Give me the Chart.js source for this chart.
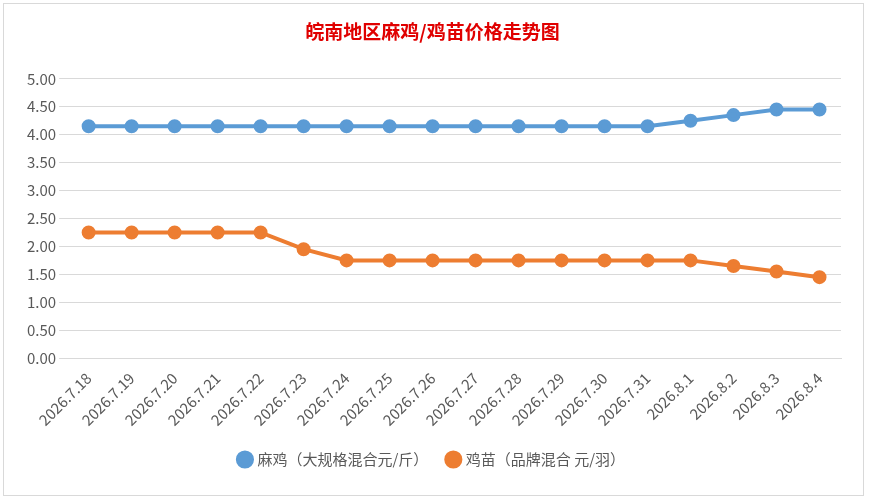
<!DOCTYPE html>
<html><head><meta charset="utf-8">
<script src="https://cdn.jsdelivr.net/npm/chart.js@4"></script>
<style>
html,body{margin:0;padding:0;background:#fff;}
#wrap{position:absolute;left:3px;top:3px;width:861px;height:493px;border:1px solid #d9d9d9;box-sizing:border-box;}
</style></head><body>
<div id="wrap"><canvas id="c"></canvas></div>
<script>
const categories=["2026.7.18","2026.7.19","2026.7.20","2026.7.21","2026.7.22","2026.7.23","2026.7.24","2026.7.25","2026.7.26","2026.7.27","2026.7.28","2026.7.29","2026.7.30","2026.7.31","2026.8.1","2026.8.2","2026.8.3","2026.8.4"];
const maji=[4.15,4.15,4.15,4.15,4.15,4.15,4.15,4.15,4.15,4.15,4.15,4.15,4.15,4.15,4.25,4.35,4.45,4.45];
const jimiao=[2.25,2.25,2.25,2.25,2.25,1.95,1.75,1.75,1.75,1.75,1.75,1.75,1.75,1.75,1.75,1.65,1.55,1.45];
const F="'Noto Sans CJK SC','Noto Sans',sans-serif";
new Chart(document.getElementById('c'),{type:'line',
data:{labels:categories,datasets:[
{label:'麻鸡（大规格混合元/斤）',data:maji,borderColor:'#5b9bd5',backgroundColor:'#5b9bd5',borderWidth:4,pointRadius:5,pointHoverRadius:5,tension:0},
{label:'鸡苗（品牌混合 元/羽）',data:jimiao,borderColor:'#ed7d31',backgroundColor:'#ed7d31',borderWidth:4,pointRadius:5,pointHoverRadius:5,tension:0}]},
options:{responsive:true,maintainAspectRatio:false,animation:false,
layout:{padding:{left:20,right:22,top:0,bottom:18}},
plugins:{title:{display:true,text:'皖南地区麻鸡/鸡苗价格走势图',color:'#e00000',font:{family:F,size:19,weight:'bold'},padding:{top:16,bottom:36}},
legend:{position:'bottom',labels:{usePointStyle:true,pointStyle:'circle',boxWidth:10,boxHeight:10,color:'#595959',font:{family:F,size:15},padding:20}},tooltip:{enabled:false}},
scales:{x:{offset:true,grid:{display:false},border:{color:'#d9d9d9'},ticks:{color:'#595959',font:{family:F,size:15},maxRotation:45,minRotation:45,autoSkip:false}},
y:{min:0,max:5,ticks:{stepSize:0.5,color:'#595959',font:{family:F,size:15},callback:v=>v.toFixed(2)},grid:{color:'#d9d9d9'},border:{display:false}}}}});
</script></body></html>
